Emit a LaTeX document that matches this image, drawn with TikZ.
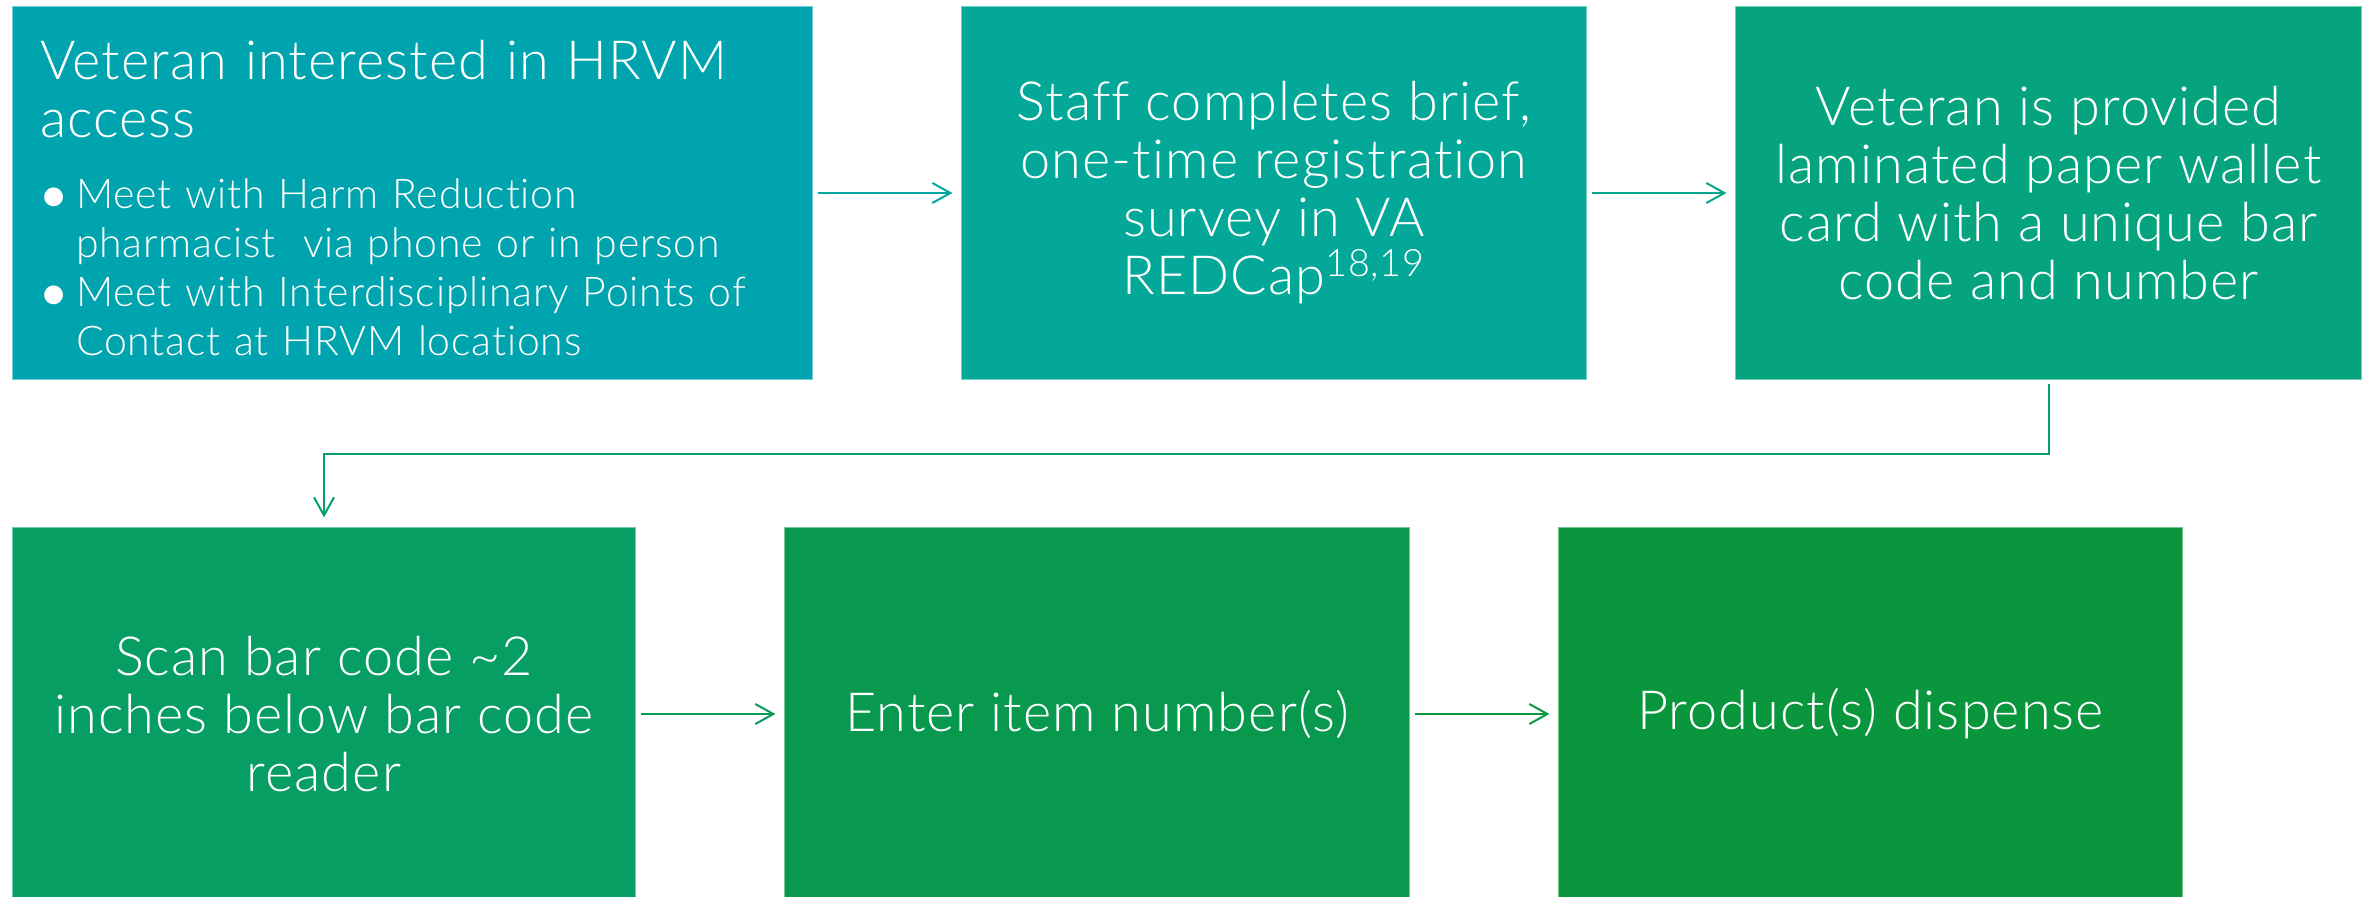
\documentclass[tikz,border=0pt]{standalone}
\usepackage{fontspec}
\setmainfont{Lato}[UprightFont={* Light}, LetterSpace=2, Ligatures={NoCommon,NoRare}]
\usetikzlibrary{arrows.meta}
\definecolor{cA}{RGB}{0,164,174}
\definecolor{cB}{RGB}{3,168,152}
\definecolor{cC}{RGB}{6,164,126}
\definecolor{cD}{RGB}{7,158,99}
\definecolor{cE}{RGB}{8,153,78}
\definecolor{cF}{RGB}{10,150,60}
\definecolor{aA}{RGB}{2,166,163}
\definecolor{aB}{RGB}{5,166,139}
\definecolor{aC}{RGB}{7,161,112}
\definecolor{aD}{RGB}{8,155,88}
\definecolor{aE}{RGB}{9,151,69}
\newcommand{\fsbig}{\fontsize{27}{29}\selectfont}
\newcommand{\fsbul}{\fontsize{20.5}{24.5}\selectfont\spaceskip=.3333em\xspaceskip=.5em\relax}
\newcommand{\bul}{\makebox[18pt][l]{\hspace{-2.5pt}\raisebox{-4pt}{\fontsize{32}{32}\selectfont\textbullet}}}
\tikzset{
  stepbox/.style={draw=white, draw opacity=0.45, line width=0.6pt, text=white,
    minimum height=187pt, inner sep=0pt, align=center, font=\fsbig},
  flowarrow/.style={line width=1pt, -{Straight Barb[length=9pt,width=10pt,line width=1pt]}}
}
\begin{document}
\begin{tikzpicture}[x=0.5pt,y=-0.5pt]
\useasboundingbox (0,0) rectangle (2369,897);
\fill[white] (0,0) rectangle (2369,897);
% top row
\node[stepbox, fill=cA, minimum width=400.5pt] (b1) at (412.5,193) {};
\node[text=white, inner sep=0pt, text width=370pt, align=left, font=\fsbig] (b1t) at (410,205)
{Veteran interested in HRVM\\ access\par\vspace{6.5pt}%
\noindent{\fsbul\renewcommand{\arraystretch}{1.0}%
\begin{tabular}[t]{@{}l@{}l@{}}
\bul & Meet with Harm Reduction\\
 & pharmacist\ \ via phone or in person\\
\bul & Meet with Interdisciplinary Points of\\
 & Contact at HRVM locations
\end{tabular}}};
\node[stepbox, fill=cB, minimum width=313pt] (b2) at (1274,193)
{Staff completes brief,\\ one-time registration\\ survey in VA\\ REDCap\textsuperscript{18,19}};
\node[stepbox, fill=cC, minimum width=313.5pt] (b3) at (2048.5,193)
{Veteran is provided\\ laminated paper wallet\\ card with a unique bar\\ code and number};
% bottom row
\node[stepbox, fill=cD, minimum width=312pt] (b4) at (324,714)
{Scan bar code \textasciitilde2\\ inches below bar code\\ reader};
\node[stepbox, fill=cE, minimum width=313pt] (b5) at (1097,714) {Enter item number(s)};
\node[stepbox, fill=cF, minimum width=312.5pt] (b6) at (1870.5,714) {Product(s) dispense};
% connectors
\draw[flowarrow, draw=aA, shorten <=2pt, shorten >=4pt] (b1.east) -- (b2.west);
\draw[flowarrow, draw=aB, shorten <=2pt, shorten >=4pt] (b2.east) -- (b3.west);
\coordinate (k1) at (2048.5,454);
\coordinate (k2) at (324,454);
\draw[flowarrow, draw=aC, shorten <=1.5pt, shorten >=4.5pt] (b3.south) -- (k1) -- (k2) -- (b4.north);
\draw[flowarrow, draw=aD, shorten <=2pt, shorten >=4pt] (b4.east) -- (b5.west);
\draw[flowarrow, draw=aE, shorten <=2pt, shorten >=4pt] (b5.east) -- (b6.west);
\end{tikzpicture}
\end{document}
